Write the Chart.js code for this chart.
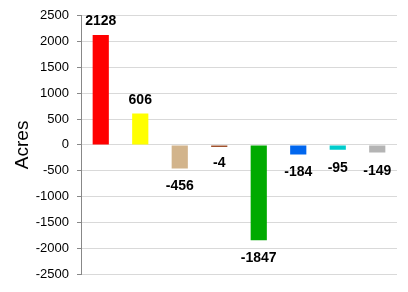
<!DOCTYPE html>
<html>
<head>
<meta charset="utf-8">
<script src="https://cdn.jsdelivr.net/npm/chart.js@4/dist/chart.umd.min.js"></script>
<style>
html,body{margin:0;padding:0;background:#fff;}
#wrap{width:408px;height:292px;position:relative;}
</style>
</head>
<body>
<div id="wrap"><canvas id="c" width="408" height="292"></canvas></div>
<script>
const categories = ["A","B","C","D","E","F","G","H"];
const values = [2128, 606, -456, -4, -1847, -184, -95, -149];
const barColors = ["#FF0000","#FFFF00","#D2B48C","#A0522D","#00AA00","#0066EE","#00CCCC","#B4B4B4"];
const yTicks = [-2500,-2000,-1500,-1000,-500,0,500,1000,1500,2000,2500];

const valueLabels = {
  id: 'valueLabels',
  afterDatasetsDraw(chart) {
    const ctx = chart.ctx;
    const meta = chart.getDatasetMeta(0);
    const yScale = chart.scales.y;
    ctx.save();
    ctx.font = 'bold 14px "Liberation Sans", Arial, sans-serif';
    ctx.fillStyle = '#000';
    ctx.textAlign = 'center';
    ctx.textBaseline = 'alphabetic';
    meta.data.forEach((bar, i) => {
      const v = values[i];
      const yEnd = yScale.getPixelForValue(v);
      const y = v >= 0 ? yEnd - 10 : yEnd + 22;
      ctx.fillText(String(v), bar.x, y);
    });
    ctx.restore();
  }
};

new Chart(document.getElementById('c'), {
  type: 'bar',
  data: {
    labels: categories,
    datasets: [{
      data: values,
      backgroundColor: barColors,
      borderWidth: 0,
      minBarLength: 2,
      categoryPercentage: 1.0,
      barPercentage: 0.41
    }]
  },
  options: {
    responsive: false,
    animation: false,
    events: [],
    layout: { padding: { left: 0, right: 11, top: 15, bottom: 18 } },
    plugins: { legend: { display: false }, tooltip: { enabled: false } },
    scales: {
      x: {
        display: true,
        grid: { display: false, drawTicks: false },
        border: { display: false },
        ticks: { display: false }
      },
      y: {
        min: -2500, max: 2500,
        afterFit(scale) { scale.width = 81; },
        afterBuildTicks(scale) { scale.ticks = yTicks.map(v => ({ value: v })); },
        grid: { color: '#D9D9D9', lineWidth: 1, tickLength: 4, tickColor: '#888888', drawTicks: true },
        border: { display: true, color: '#888888', width: 1 },
        ticks: {
          color: '#000',
          padding: 8,
          font: { family: '"Liberation Sans", Arial, sans-serif', size: 13 },
          callback: (v) => String(v)
        },
        title: {
          display: true,
          text: 'Acres',
          color: '#000',
          font: { family: '"Liberation Sans", Arial, sans-serif', size: 19 },
          padding: { top: 11, bottom: 0 }
        }
      }
    }
  },
  plugins: [valueLabels]
});
</script>
</body>
</html>
